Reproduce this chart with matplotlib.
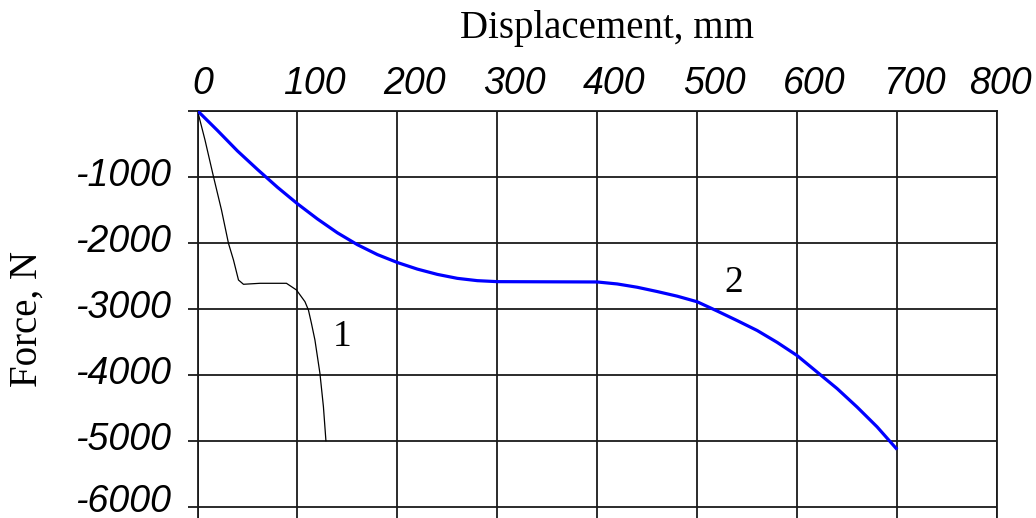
import matplotlib
matplotlib.use("Agg")
import matplotlib.pyplot as plt
import matplotlib.transforms as mtransforms

# Curve 1 (thin black)
x1 = [0, 7.5, 16, 24, 31, 36, 41, 46, 62.5, 89, 99, 107.5, 111, 114, 117.5, 122.5, 126, 128.5]
y1 = [0, -444, -1000, -1504, -2010, -2262, -2565, -2630, -2615, -2615, -2716, -2893, -3020, -3221, -3474, -3979, -4485, -5000]

# Curve 2 (blue)
x2 = [0, 20, 40, 60, 80, 100, 120, 140, 160, 180, 200, 220, 240, 260, 280, 300,
      400, 420, 440, 460, 480, 500, 520, 540, 560, 580, 600, 620, 640, 660, 680, 699]
y2 = [0, -300, -610, -890, -1160, -1410, -1640, -1850, -2030, -2180, -2300, -2400, -2480, -2540, -2575, -2590,
      -2595, -2625, -2675, -2740, -2810, -2895, -3035, -3180, -3330, -3510, -3710, -3960, -4210, -4490, -4790, -5115]

xticks = [0, 100, 200, 300, 400, 500, 600, 700, 800]
yticks = [0, -1000, -2000, -3000, -4000, -5000, -6000]
ytick_labels = ["", "-1000", "-2000", "-3000", "-4000", "-5000", "-6000"]

W, H = 1036, 518
fig = plt.figure(figsize=(W / 100, H / 100), dpi=100)
ax = fig.add_axes([197.5 / W, 0, (997 - 197.5) / W, 1 - 110.7 / H])

ax.set_xlim(0, 800)
ax.set_ylim(-6171, 0)

ax.plot(x1, y1, color="black", lw=0.9, zorder=3)
ax.plot(x2, y2, color="#0000ff", lw=2.3, zorder=4, solid_joinstyle="round")

ax.xaxis.tick_top()
ax.set_xticks(xticks)
ax.set_xticklabels([str(v) for v in xticks])
ax.set_yticks(yticks)
ax.set_yticklabels(ytick_labels)

ax.grid(True, color="#1a1a1a", lw=1.3)
ax.set_axisbelow(True)

for s in ["top", "left", "right"]:
    ax.spines[s].set_color("#1a1a1a")
    ax.spines[s].set_linewidth(1.3)
ax.spines["bottom"].set_visible(False)

ax.tick_params(axis="x", which="both", length=0, pad=6, top=True, bottom=False)
ax.tick_params(axis="y", which="both", length=7, width=1.3, color="#1a1a1a", pad=12, direction="out")
for lab in ax.get_xticklabels() + ax.get_yticklabels():
    lab.set_fontfamily("Liberation Sans")
    lab.set_fontstyle("italic")
    lab.set_fontsize(27)

# shift the top labels a little to the right like the reference
offsets = {"0": 5, "800": 3}
for lab in ax.get_xticklabels():
    dx = offsets.get(lab.get_text(), 17)
    lab.set_transform(lab.get_transform() + mtransforms.ScaledTranslation(dx / 100, 0, fig.dpi_scale_trans))
for lab in ax.get_yticklabels():
    dy = 9 if lab.get_text() == "-6000" else 5
    lab.set_transform(lab.get_transform() + mtransforms.ScaledTranslation(0, dy / 100, fig.dpi_scale_trans))

serif = dict(family="Liberation Serif", size=28)
fig.text(607 / W, 1 - 38 / H, "Displacement, mm", ha="center", va="baseline", **serif)
fig.text(27 / W, 1 - 319 / H, "Force, N", rotation=90, ha="center", va="center", **serif)

ax.text(145, -3430, "1", ha="center", va="center", family="Liberation Serif", size=27)
ax.text(537, -2610, "2", ha="center", va="center", family="Liberation Serif", size=27)

fig.savefig("out.png", dpi=100)
